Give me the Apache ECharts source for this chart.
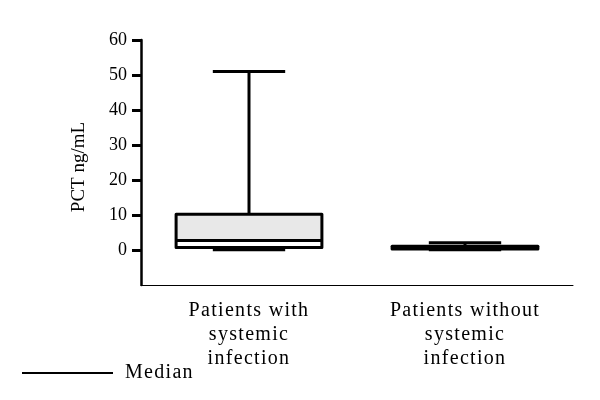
<!DOCTYPE html>
<html>
<head>
<meta charset="utf-8">
<script src="https://cdn.jsdelivr.net/npm/echarts@6/dist/echarts.min.js"></script>
<style>html,body{margin:0;padding:0;background:#fff;}#c{width:600px;height:400px;}</style>
</head>
<body>
<div id="c"></div>
<script>
const categories = ['Patients with\nsystemic\ninfection', 'Patients without\nsystemic\ninfection'];
const mins    = [0.1, 0.05];
const q1s     = [0.7, 0.3];
const medians = [2.7, 0.6];
const q3s     = [10.2, 1.1];
const maxs    = [51, 2.1];
const yTicks  = [0, 10, 20, 30, 40, 50, 60];

const data = categories.map((c, i) => [i, mins[i], q1s[i], medians[i], q3s[i], maxs[i]]);
const FONT = '"Liberation Serif", "Times New Roman", serif';

// loose tracking for the 20px category / legend text, as in the reference
(function () {
  const proto = CanvasRenderingContext2D.prototype;
  const desc = Object.getOwnPropertyDescriptor(proto, 'font');
  if (!desc || !('letterSpacing' in proto)) return;
  Object.defineProperty(proto, 'font', {
    configurable: true,
    get: desc.get,
    set: function (v) {
      desc.set.call(this, v);
      this.letterSpacing = /(^|\s)20px/.test(v) ? '1.3px' : '0px';
    }
  });
})();

function renderItem(params, api) {
  const x = api.value(0);
  const c = v => api.coord([x, v]);
  const band = api.size([1, 0])[0];
  const boxW = band * 0.675, capW = band * 0.335;
  const pMin = c(api.value(1)), pQ1 = c(api.value(2)), pMed = c(api.value(3)),
        pQ3 = c(api.value(4)), pMax = c(api.value(5));
  const cx = pMin[0];
  const bl = cx - boxW / 2, br = cx + boxW / 2;
  const cl = cx - capW / 2, cr = cx + capW / 2;
  const st = { stroke: '#000', lineWidth: 3, lineJoin: 'round', lineCap: 'butt', fill: null };
  return {
    type: 'group',
    children: [
      { type: 'line', shape: { x1: cx, y1: pQ3[1], x2: cx, y2: pMax[1] }, style: st },
      { type: 'line', shape: { x1: cx, y1: pQ1[1], x2: cx, y2: pMin[1] }, style: st },
      { type: 'line', shape: { x1: cl, y1: pMax[1], x2: cr, y2: pMax[1] }, style: st },
      { type: 'line', shape: { x1: cl, y1: pMin[1], x2: cr, y2: pMin[1] }, style: st },
      { type: 'rect', shape: { x: bl, y: pQ3[1], width: boxW, height: pMed[1] - pQ3[1] }, style: { fill: '#e8e8e8' } },
      { type: 'rect', shape: { x: bl, y: pMed[1], width: boxW, height: pQ1[1] - pMed[1] }, style: { fill: '#fff' } },
      { type: 'rect', shape: { x: bl, y: pQ3[1], width: boxW, height: pQ1[1] - pQ3[1] }, style: st },
      { type: 'line', shape: { x1: bl, y1: pMed[1], x2: br, y2: pMed[1] }, style: st }
    ]
  };
}

const chart = echarts.init(document.getElementById('c'), null, { renderer: 'canvas' });
chart.setOption({
  animation: false,
  backgroundColor: '#fff',
  grid: { left: 141, top: 40, right: 27, bottom: 115, containLabel: false },
  xAxis: {
    type: 'category',
    data: categories,
    boundaryGap: true,
    axisLine: { onZero: false, lineStyle: { color: '#000', width: 1 } },
    axisTick: { alignWithLabel: true, length: 6, lineStyle: { color: '#000', width: 3 } },
    axisLabel: { color: '#000', fontFamily: FONT, fontSize: 20, lineHeight: 24, margin: 14, interval: 0 },
    splitLine: { show: false }
  },
  yAxis: {
    type: 'value',
    min: -10, max: 60, interval: 10,
    name: 'PCT ng/mL',
    nameLocation: 'middle',
    nameGap: 52,
    nameTextStyle: { color: '#000', fontFamily: FONT, fontSize: 19, padding: [0, 9, 0, 0] },
    axisLine: { show: true, lineStyle: { color: '#000', width: 2.5 } },
    axisTick: { show: true, length: 9, customValues: yTicks, lineStyle: { color: '#000', width: 3 } },
    axisLabel: { color: '#000', fontFamily: FONT, fontSize: 18, margin: 14, customValues: yTicks },
    splitLine: { show: false }
  },
  series: [{
    type: 'custom',
    renderItem: renderItem,
    data: data,
    encode: { x: 0, y: [1, 2, 3, 4, 5] },
    clip: false
  }],
  graphic: [
    { type: 'line', shape: { x1: 22, y1: 373, x2: 113, y2: 373 }, style: { stroke: '#000', lineWidth: 2 } },
    { type: 'text', x: 125, y: 373, style: { text: 'Median', font: '20px ' + FONT, fill: '#000', textVerticalAlign: 'middle', textAlign: 'left' } }
  ]
});
</script>
</body>
</html>
